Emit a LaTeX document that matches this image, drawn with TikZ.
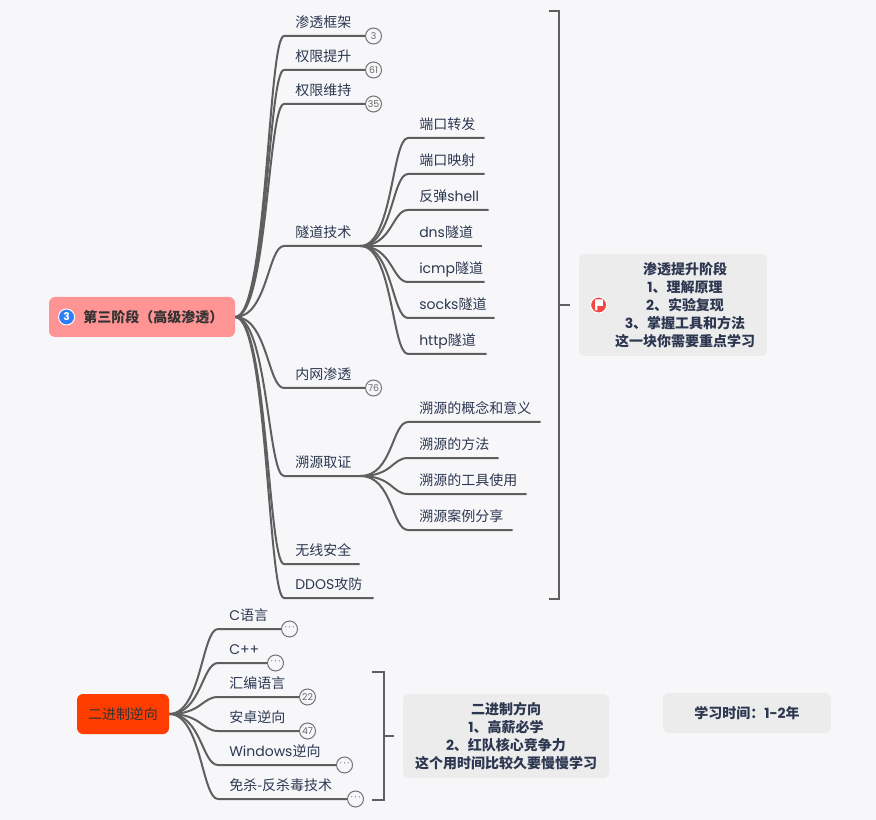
\documentclass[tikz,border=0pt]{standalone}
\usepackage{fontspec}
\usepackage{xcolor}
\usetikzlibrary{positioning}
\setmainfont{Noto Sans CJK SC}
\newfontfamily\latfont{Poppins}
\newcommand{\lat}[1]{{\latfont #1}}
\newcommand{\moredots}{·\hspace{1.3pt}·\hspace{1.3pt}·}
\definecolor{pagebg}{RGB}{247,247,250}
\definecolor{linegray}{RGB}{95,95,95}
\definecolor{textnavy}{RGB}{45,55,80}
\definecolor{notegray}{RGB}{236,236,236}
\definecolor{rootpink}{RGB}{255,148,148}
\definecolor{rootred}{RGB}{255,61,0}
\definecolor{iconblue}{RGB}{45,125,245}
\definecolor{iconred}{RGB}{245,70,65}

\begin{document}
\begin{tikzpicture}[
    x=0.75pt, y=-0.75pt,
    root/.style={rectangle, rounded corners=4.5pt, minimum height=30pt, inner sep=0pt, font=\fontsize{10.5}{13}\selectfont, text=black!80},
    topic/.style={rectangle, anchor=south west, text width=#1*0.75pt, align=left, inner xsep=0pt, inner ysep=2.1pt, font=\fontsize{10.5}{13}\selectfont, text=textnavy, execute at begin node={\hspace*{8.25pt}\strut}},
    badge/.style={circle, draw=black!55, fill=pagebg, line width=0.75pt, minimum size=12pt, inner sep=0pt, font=\latfont\fontsize{7}{7}\selectfont, text=black!60},
    note/.style={rectangle, rounded corners=4.5pt, fill=notegray, inner sep=0pt, font=\bfseries\fontsize{10.5}{13.5}\selectfont, text=textnavy, align=center},
    icon/.style={circle, draw=white, line width=0.7pt, minimum size=12pt, inner sep=0pt, text=white},
    branch/.style={line width=1.5pt, color=linegray},
    curve/.style={out=0, in=180, out distance=24pt, in distance=12pt}
]
\fill[pagebg] (0,0) rectangle (876,820);

% Stage three: root and first level
\node[root, fill=rootpink, minimum width=139.5pt] (stage) at (142,317) {\hspace*{17pt}\bfseries 第三阶段（高级渗透）};
\node[icon, fill=iconblue, right=7pt of stage.west, font=\latfont\bfseries\fontsize{8}{8}\selectfont] (stageicon) {3};

\node[topic=89] (frame) at (284,36) {渗透框架};
\node[topic=89, below=25.5pt of frame.south west, anchor=south west] (privup) {权限提升};
\node[topic=89, below=25.5pt of privup.south west, anchor=south west] (privkeep) {权限维持};
\node[topic=76] (tunnel) at (284,246) {隧道技术};
\node[topic=89] (intranet) at (284,388) {内网渗透};
\node[topic=76] (trace) at (284,476) {溯源取证};
\node[topic=75] (wifi) at (284,564) {无线安全};
\node[topic=89, below=25.5pt of wifi.south west, anchor=south west] (ddos) {\lat{DDOS}攻防};

\node[badge] (framen) at (frame.south east) {3};
\node[badge] (privupn) at (privup.south east) {61};
\node[badge] (privkeepn) at (privkeep.south east) {35};
\node[badge] (intranetn) at (intranet.south east) {76};

% Tunnel children
\node[topic=76] (portfwd) at (408,138) {端口转发};
\node[topic=76, below=27pt of portfwd.south west, anchor=south west] (portmap) {端口映射};
\node[topic=80, below=27pt of portmap.south west, anchor=south west] (shell) {反弹\lat{shell}};
\node[topic=73, below=27pt of shell.south west, anchor=south west] (dns) {\lat{dns}隧道};
\node[topic=76, below=27pt of dns.south west, anchor=south west] (icmp) {\lat{icmp}隧道};
\node[topic=86, below=27pt of icmp.south west, anchor=south west] (socks) {\lat{socks}隧道};
\node[topic=78, below=27pt of socks.south west, anchor=south west] (http) {\lat{http}隧道};

% Trace children
\node[topic=132] (concept) at (408,422) {溯源的概念和意义};
\node[topic=90, below=27pt of concept.south west, anchor=south west] (method) {溯源的方法};
\node[topic=118, below=27pt of method.south west, anchor=south west] (tools) {溯源的工具使用};
\node[topic=104, below=27pt of tools.south west, anchor=south west] (cases) {溯源案例分享};

% Arrows of stage three
\draw[branch] (stage.east) to[curve] (frame.south west) -- (framen);
\draw[branch] (stage.east) to[curve] (privup.south west) -- (privupn);
\draw[branch] (stage.east) to[curve] (privkeep.south west) -- (privkeepn);
\draw[branch] (stage.east) to[curve] (tunnel.south west) -- (tunnel.south east);
\draw[branch] (stage.east) to[curve] (intranet.south west) -- (intranetn);
\draw[branch] (stage.east) to[curve] (trace.south west) -- (trace.south east);
\draw[branch] (stage.east) to[curve] (wifi.south west) -- (wifi.south east);
\draw[branch] (stage.east) to[curve] (ddos.south west) -- (ddos.south east);

\draw[branch] (tunnel.south east) to[curve] (portfwd.south west) -- (portfwd.south east);
\draw[branch] (tunnel.south east) to[curve] (portmap.south west) -- (portmap.south east);
\draw[branch] (tunnel.south east) to[curve] (shell.south west) -- (shell.south east);
\draw[branch] (tunnel.south east) to[curve] (dns.south west) -- (dns.south east);
\draw[branch] (tunnel.south east) to[curve] (icmp.south west) -- (icmp.south east);
\draw[branch] (tunnel.south east) to[curve] (socks.south west) -- (socks.south east);
\draw[branch] (tunnel.south east) to[curve] (http.south west) -- (http.south east);

\draw[branch] (trace.south east) to[curve] (concept.south west) -- (concept.south east);
\draw[branch] (trace.south east) to[curve] (method.south west) -- (method.south east);
\draw[branch] (trace.south east) to[curve] (tools.south west) -- (tools.south east);
\draw[branch] (trace.south east) to[curve] (cases.south west) -- (cases.south east);

% Bracket and note of stage three
\coordinate (brtop) at (549,11);
\coordinate (brbot) at (549,599);
\coordinate (brtick) at (570,305);
\draw[branch] (brtop) -- (559,11) -- (559,599) -- (brbot);
\draw[branch] (559,305) -- (brtick);
\node[note, minimum width=141pt, minimum height=76.5pt] (stagenote) at (673,305) {\hspace*{18pt}\raisebox{0pt}[\dimexpr\height+3pt\relax][\depth]{\begin{tabular}{@{}c@{}}渗透提升阶段\\\lat{1}、理解原理\\\lat{2}、实验复现\\\lat{3}、掌握工具和方法\\这一块你需要重点学习\end{tabular}}};
\node[icon, fill=iconred, right=8.6pt of stagenote.west] (flag) {};
\fill[white] ([xshift=-2.6pt,yshift=4.2pt]flag.center) -- ++(0,11) -- ++(2.2,0) -- ++(0,-4.5) -- ++(5.5,0) -- ++(0,-6.5) -- cycle;

% Binary reversing
\node[root, fill=rootred, minimum width=69pt] (binary) at (123,714) {二进制逆向};

\node[topic=71] (clang) at (218,629) {\lat{C}语言};
\node[topic=57, below=25.5pt of clang.south west, anchor=south west] (cpp) {\lat{C++}};
\node[topic=89, below=25.5pt of cpp.south west, anchor=south west] (asm) {汇编语言};
\node[topic=89, below=25.5pt of asm.south west, anchor=south west] (android) {安卓逆向};
\node[topic=126, below=25.5pt of android.south west, anchor=south west] (windows) {\lat{Windows}逆向};
\node[topic=137, below=25.5pt of windows.south west, anchor=south west] (evade) {免杀-反杀毒技术};

\node[badge] (clangn) at (clang.south east) {\moredots};
\node[badge] (cppn) at (cpp.south east) {\moredots};
\node[badge] (asmn) at (asm.south east) {22};
\node[badge] (androidn) at (android.south east) {47};
\node[badge] (windowsn) at (windows.south east) {\moredots};
\node[badge] (evaden) at (evade.south east) {\moredots};

\draw[branch] (binary.east) to[curve] (clang.south west) -- (clangn);
\draw[branch] (binary.east) to[curve] (cpp.south west) -- (cppn);
\draw[branch] (binary.east) to[curve] (asm.south west) -- (asmn);
\draw[branch] (binary.east) to[curve] (android.south west) -- (androidn);
\draw[branch] (binary.east) to[curve] (windows.south west) -- (windowsn);
\draw[branch] (binary.east) to[curve] (evade.south west) -- (evaden);

% Bracket and notes of binary reversing
\coordinate (bintop) at (372,672);
\coordinate (binbot) at (372,800);
\coordinate (bintick) at (394,736);
\draw[branch] (bintop) -- (384,672) -- (384,800) -- (binbot);
\draw[branch] (384,736) -- (bintick);
\node[note, minimum width=154.5pt, minimum height=63pt] (binnote) at (506,736) {二进制方向\\\lat{1}、高薪必学\\\lat{2}、红队核心竞争力\\这个用时间比较久要慢慢学习};
\node[note, minimum width=126pt, minimum height=30pt] (timenote) at (747,713) {学习时间：\lat{1-2}年};
\end{tikzpicture}
\end{document}
